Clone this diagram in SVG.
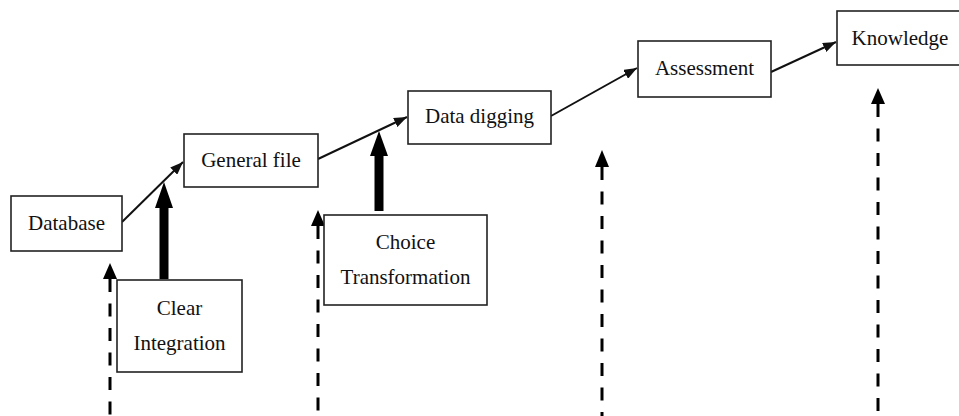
<svg xmlns="http://www.w3.org/2000/svg" width="959" height="416" viewBox="0 0 959 416">
<defs>
<style>
.box{fill:#fff;stroke:#222;stroke-width:1.6}
.lbl{font-family:"Liberation Serif","Times New Roman",serif;font-size:21px;fill:#111;text-anchor:middle}
.flow{stroke:#111;stroke-width:2;fill:none;marker-end:url(#ah)}
.thick{stroke:#000;stroke-width:9;fill:none}
.dash{stroke:#000;stroke-width:3;fill:none;stroke-dasharray:13 11.5}
.head{fill:#000}
</style>
<marker id="ah" viewBox="0 0 13 10" refX="13" refY="5" markerWidth="13" markerHeight="10" markerUnits="userSpaceOnUse" orient="auto">
<path d="M0,0 L13,5 L0,10 z" fill="#111"/>
</marker>
</defs>
<rect width="959" height="416" fill="#fff"/>
<g id="connectors">
<line class="flow" x1="122" y1="222" x2="183" y2="162"/>
<line class="flow" x1="318" y1="159" x2="407" y2="117"/>
<line class="flow" x1="551" y1="116" x2="637" y2="68"/>
<line class="flow" x1="771" y1="72" x2="836" y2="42"/>
<line class="thick" x1="164" y1="279" x2="164" y2="205"/>
<polygon class="head" points="164,182 173,208 155,208"/>
<line class="thick" x1="379" y1="211" x2="379" y2="152"/>
<polygon class="head" points="379,131 388,156 370,156"/>
<line class="dash" x1="110" y1="279" x2="110" y2="416"/>
<polygon class="head" points="110,263 117,279 103,279"/>
<line class="dash" x1="318" y1="226" x2="318" y2="416"/>
<polygon class="head" points="318,210 325,226 311,226"/>
<line class="dash" x1="602" y1="167" x2="602" y2="416"/>
<polygon class="head" points="602,150 609,167 595,167"/>
<line class="dash" x1="878" y1="104" x2="878" y2="416"/>
<polygon class="head" points="878,88 885,104 871,104"/>
</g>
<g id="database">
<rect class="box" x="11" y="196" width="111" height="55"/>
<text class="lbl" x="66.5" y="230">Database</text>
</g>
<g id="clear-integration">
<rect class="box" x="117" y="280" width="125" height="92"/>
<text class="lbl" x="179.5" y="315">Clear</text>
<text class="lbl" x="179.5" y="350">Integration</text>
</g>
<g id="general-file">
<rect class="box" x="184" y="134" width="134" height="53"/>
<text class="lbl" x="251" y="167">General file</text>
</g>
<g id="choice-transformation">
<rect class="box" x="324" y="215" width="163" height="90"/>
<text class="lbl" x="405.5" y="249">Choice</text>
<text class="lbl" x="405.5" y="284">Transformation</text>
</g>
<g id="data-digging">
<rect class="box" x="408" y="91" width="143" height="53"/>
<text class="lbl" x="479.5" y="123">Data digging</text>
</g>
<g id="assessment">
<rect class="box" x="638" y="41" width="133" height="56"/>
<text class="lbl" x="704.5" y="75">Assessment</text>
</g>
<g id="knowledge">
<rect class="box" x="837" y="11" width="125" height="54"/>
<text class="lbl" x="900" y="45">Knowledge</text>
</g>
</svg>
